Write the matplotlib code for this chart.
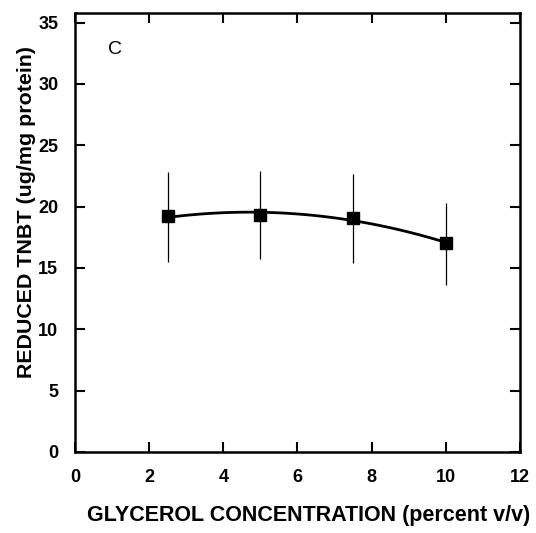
import numpy as np
import matplotlib
matplotlib.use("Agg")
import matplotlib.pyplot as plt

plt.rcParams['font.family'] = ['Liberation Sans', 'DejaVu Sans']

# glycerol concentration (percent v/v) and reduced TNBT (ug/mg protein)
glycerol = [2.5, 5.0, 7.5, 10.0]
tnbt = [19.2, 19.3, 19.1, 17.0]
err_low = [15.5, 15.7, 15.4, 13.6]
err_high = [22.8, 22.9, 22.7, 20.3]

xticks = [0, 2, 4, 6, 8, 10, 12]
yticks = [0, 5, 10, 15, 20, 25, 30, 35]

fig = plt.figure(figsize=(5.36, 5.33), dpi=100)
ax = fig.add_axes([0.140, 0.152, 0.830, 0.824])

# error bars as plain vertical lines
ax.vlines(glycerol, err_low, err_high, color='black', lw=0.9)

# second order fit through the means
coef = np.polyfit(glycerol, tnbt, 2)
xs = np.linspace(glycerol[0], glycerol[-1], 100)
ax.plot(xs, np.polyval(coef, xs), color='black', lw=2)

ax.plot(glycerol, tnbt, 's', color='black', ms=8)

ax.text(1.08, 32.8, 'C', fontsize=14, ha='center', va='center')

ax.set_xlim(0, 12)
ax.set_ylim(0, 35.8)
ax.set_xticks(xticks)
ax.set_yticks(yticks)
ax.tick_params(direction='in', length=7, width=1.5, top=True, right=True)
ax.tick_params(axis='x', pad=12)
ax.tick_params(axis='y', pad=12)
for lab in ax.get_xticklabels() + ax.get_yticklabels():
    lab.set_family(['Liberation Sans Narrow', 'Liberation Sans'])
    lab.set_fontweight('bold')
    lab.set_fontsize(13)
for s in ax.spines.values():
    s.set_linewidth(1.8)

ax.set_xlabel('GLYCEROL CONCENTRATION (percent v/v)', fontsize=15.5,
              fontweight='bold', labelpad=14)
ax.xaxis.label.set_x(0.524)
ax.set_ylabel('REDUCED TNBT (ug/mg protein)', fontsize=15.4,
              fontweight='bold')
ax.yaxis.set_label_coords(-0.088, 0.546)

fig.savefig('out.png', dpi=100)
